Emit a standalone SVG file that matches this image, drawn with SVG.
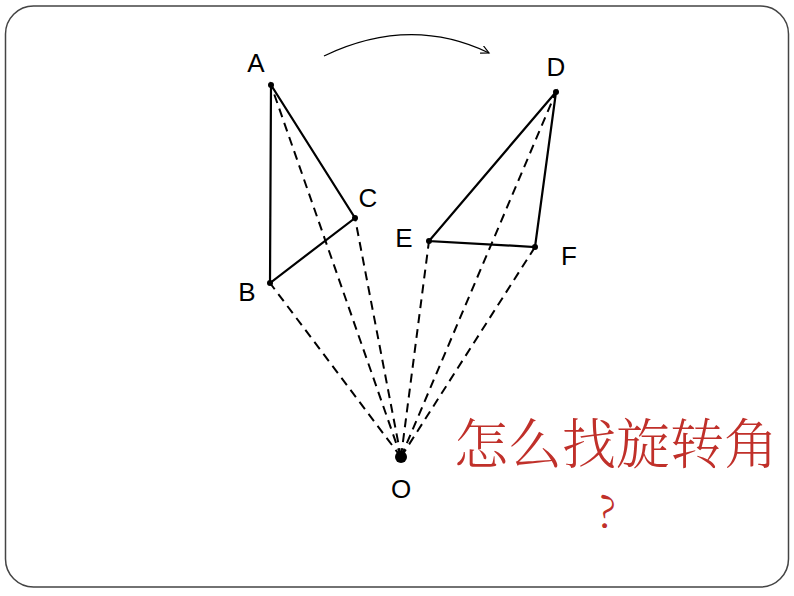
<svg xmlns="http://www.w3.org/2000/svg" width="794" height="596" viewBox="0 0 794 596">
<style>
.lbl{font-family:"Liberation Sans",Arial,sans-serif;font-size:26px;fill:#000;text-anchor:middle}
.solid{stroke:#000;stroke-width:2.2;fill:none}
.dash{stroke:#000;stroke-width:2;fill:none;stroke-dasharray:9,6}
.cn{font-family:"Noto Serif CJK SC","Noto Sans CJK SC",serif;fill:#c0302a;font-weight:300}
</style>
<defs>
<marker id="arr" markerWidth="10" markerHeight="10" refX="8" refY="4" orient="auto" markerUnits="userSpaceOnUse">
<path d="M0,0 L8,4 L0,8" fill="none" stroke="#000" stroke-width="1.2"/>
</marker>
</defs>
<rect x="5.5" y="6" width="783" height="581" rx="28" fill="#fff" stroke="#444" stroke-width="1.5"/>
<g id="connectors">
<path class="dash" d="M401,457 L271,85"/>
<path class="dash" d="M401,457 L270,283"/>
<path class="dash" d="M401,457 L355,218"/>
<path class="dash" d="M401,457 L556,92"/>
<path class="dash" d="M401,457 L429,241"/>
<path class="dash" d="M401,457 L535,247"/>
<path class="solid" d="M271,85 L270,283 L355,218 Z"/>
<path class="solid" d="M556,92 L429,241 L535,247 Z"/>
<path d="M324,56 Q410,15 489,53" fill="none" stroke="#000" stroke-width="1.3" marker-end="url(#arr)"/>
</g>
<g id="A"><circle cx="271" cy="85" r="3"/><text class="lbl" x="256" y="72">A</text></g>
<g id="B"><circle cx="270" cy="283" r="3"/><text class="lbl" x="247" y="301">B</text></g>
<g id="C"><circle cx="355" cy="218" r="3"/><text class="lbl" x="368" y="207">C</text></g>
<g id="D"><circle cx="556" cy="92" r="3"/><text class="lbl" x="556" y="76">D</text></g>
<g id="E"><circle cx="429" cy="241" r="3"/><text class="lbl" x="404" y="247">E</text></g>
<g id="F"><circle cx="535" cy="247" r="3"/><text class="lbl" x="569" y="265">F</text></g>
<g id="O"><circle cx="401" cy="457" r="6"/><text class="lbl" x="401" y="498">O</text></g>
<g id="question">
<text class="cn" x="616" y="464" text-anchor="middle" font-size="54">怎么找旋转角</text>
<text class="cn" x="607" y="527" text-anchor="middle" font-size="44">?</text>
</g>
</svg>
